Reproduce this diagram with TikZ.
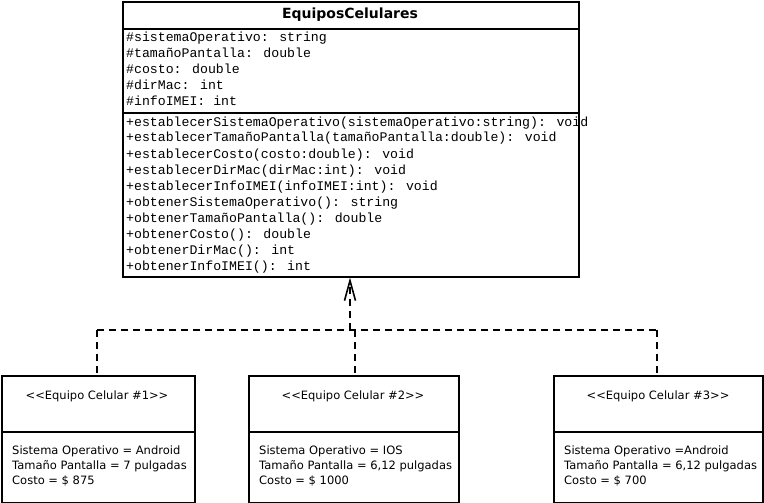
\documentclass[tikz,border=0pt]{standalone}
\usepackage{fontspec}
\setmainfont{DejaVu Sans}[Ligatures=NoCommon]
\newfontfamily\monof{Liberation Mono}
\newfontfamily\titlef{DejaVu Sans}
\usetikzlibrary{arrows.meta}
\begin{document}
\begin{tikzpicture}[x=1pt,y=-1pt,
  box/.style={draw,line width=1.6pt,rectangle,inner sep=0pt,anchor=north west},
  mono/.style={anchor=base west,inner sep=0pt,font=\monof\fontsize{13.2}{16}\selectfont},
  inst/.style={anchor=base west,inner sep=0pt,font=\fontsize{11.5}{14}\selectfont},
  stereo/.style={anchor=center,inner sep=0pt,font=\fontsize{11.5}{14}\selectfont},
  dep/.style={line width=1.6pt,dash pattern=on 7pt off 5pt}]
\useasboundingbox (0,0) rectangle (764,503);
% main class
\node[box,minimum width=456pt,minimum height=275pt] (main) at (122,1) {};
\draw[line width=1.2pt] (122,29) -- (578,29);
\draw[line width=1.2pt] (122,113) -- (578,113);
\node[inner sep=0pt,font=\titlef\bfseries\fontsize{14}{16}\selectfont] (title) at (350,15) {EquiposCelulares};
\node[mono] (a1) at (126,42) {\#sistemaOperativo: string};
\node[mono] (a2) at (126,58) {\#tamañoPantalla: double};
\node[mono] (a3) at (126,74) {\#costo: double};
\node[mono] (a4) at (126,90) {\#dirMac: int};
\node[mono] (a5) at (126,106) {\#infoIMEI: int};
\node[mono] (m1) at (126,126) {+establecerSistemaOperativo(sistemaOperativo:string): void};
\node[mono] (m2) at (126,142) {+establecerTamañoPantalla(tamañoPantalla:double): void};
\node[mono] (m3) at (126,158) {+establecerCosto(costo:double): void};
\node[mono] (m4) at (126,174) {+establecerDirMac(dirMac:int): void};
\node[mono] (m5) at (126,190) {+establecerInfoIMEI(infoIMEI:int): void};
\node[mono] (m6) at (126,206) {+obtenerSistemaOperativo(): string};
\node[mono] (m7) at (126,222) {+obtenerTamañoPantalla(): double};
\node[mono] (m8) at (126,238) {+obtenerCosto(): double};
\node[mono] (m9) at (126,254) {+obtenerDirMac(): int};
\node[mono] (m10) at (126,270) {+obtenerInfoIMEI(): int};
% instances
\node[box,minimum width=193pt,minimum height=127pt] (b1) at (1,375) {};
\node[box,minimum width=210pt,minimum height=127pt] (b2) at (248,375) {};
\node[box,minimum width=209pt,minimum height=127pt] (b3) at (553,375) {};
\draw[line width=1.2pt] (b1.west |- 0,432) -- (b1.east |- 0,432);
\draw[line width=1.2pt] (b2.west |- 0,432) -- (b2.east |- 0,432);
\draw[line width=1.2pt] (b3.west |- 0,432) -- (b3.east |- 0,432);
\node[stereo] (s1) at (97,396) {<{}<Equipo Celular \#1>{}>};
\node[stereo] (s2) at (353,396) {<{}<Equipo Celular \#2>{}>};
\node[stereo] (s3) at (658,396) {<{}<Equipo Celular \#3>{}>};
\node[inst] (p11) at (12,454) {Sistema Operativo = Android};
\node[inst] (p12) at (12,469) {Tamaño Pantalla = 7 pulgadas};
\node[inst] (p13) at (12,484) {Costo = \$ 875};
\node[inst] (p21) at (259,454) {Sistema Operativo = IOS};
\node[inst] (p22) at (259,469) {Tamaño Pantalla = 6,12 pulgadas};
\node[inst] (p23) at (259,484) {Costo = \$ 1000};
\node[inst] (p31) at (564,454) {Sistema Operativo =Android};
\node[inst] (p32) at (564,469) {Tamaño Pantalla = 6,12 pulgadas};
\node[inst] (p33) at (564,484) {Costo = \$ 700};
% connectors
\coordinate (j) at (350,330);
\coordinate (j1) at (97,330);
\coordinate (j2) at (355,330);
\coordinate (j3) at (657,330);
\draw[dep] (j1) -- (j3);
\draw[dep] (j1) -- (j1 |- b1.north);
\draw[dep] (j2) -- (j2 |- b2.north);
\draw[dep] (j3) -- (j3 |- b3.north);
\draw[dep,-{Straight Barb[length=20pt,width=11pt,line width=1.6pt]}] (j) -- (j |- main.south);
\end{tikzpicture}
\end{document}
